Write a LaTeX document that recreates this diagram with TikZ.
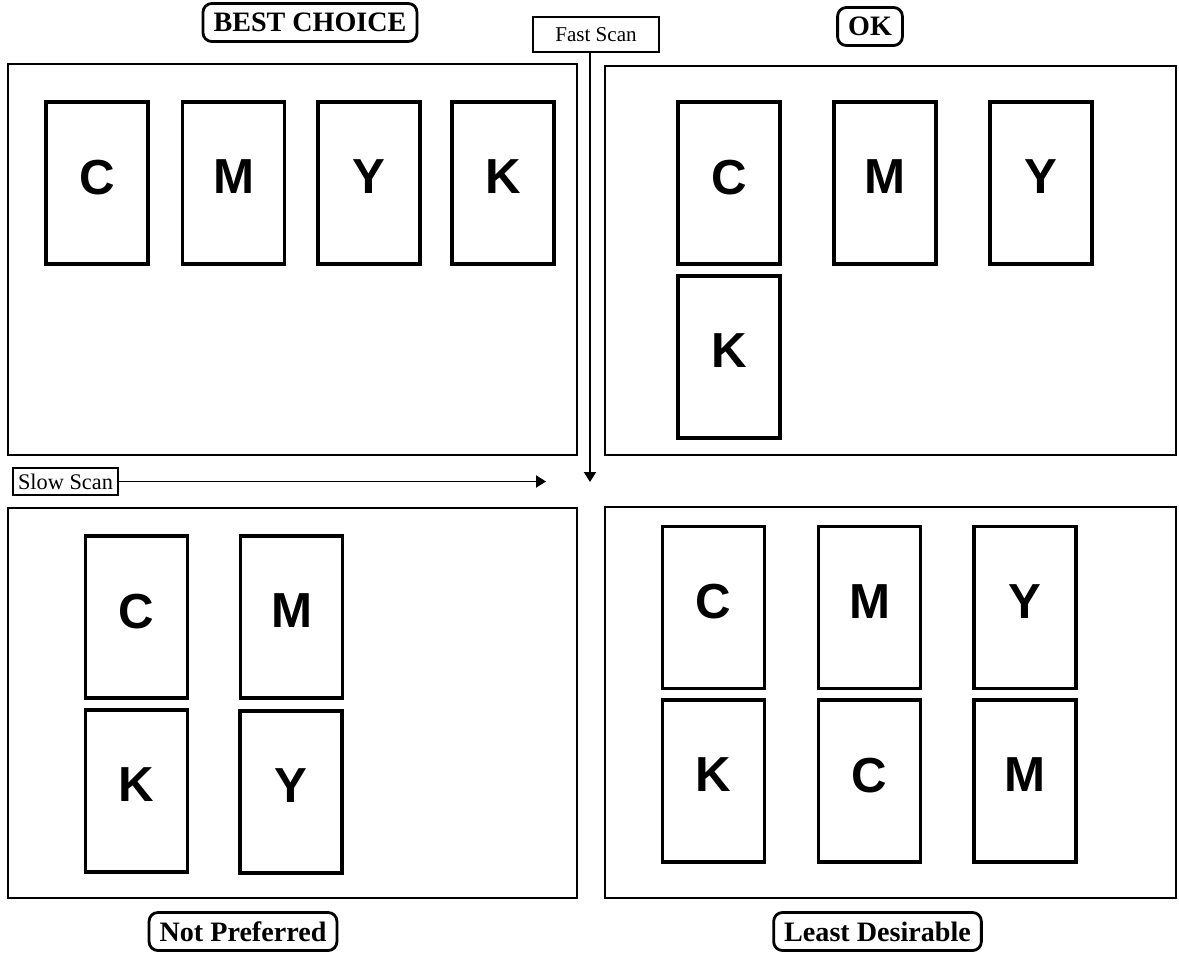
\documentclass[tikz,border=0pt]{standalone}
\usepackage{fontspec}
\setmainfont{Liberation Serif}
\setsansfont{Liberation Sans}
\usepackage{tikz}
\usetikzlibrary{arrows.meta}

\begin{document}
\begin{tikzpicture}[x=0.02cm, y=-0.02cm,
        % Define styles for the panels, the ink boxes and the captions
        panel/.style={draw, line width=1.1pt, inner sep=0pt},
        ink/.style={draw, line width=2.2pt, inner sep=0pt, minimum width=2.04cm, minimum height=3.24cm,
            text depth=0.24cm, font=\sffamily\bfseries\fontsize{28}{28}\selectfont},
        caption/.style={draw, rounded corners=5pt, line width=1.6pt, inner xsep=6pt, inner ysep=0pt,
            minimum height=0.76cm, font=\bfseries\fontsize{16}{16}\selectfont},
        scan/.style={draw, inner sep=0pt, font=\fontsize{12}{12}\selectfont},
        scanarrow/.style={line width=1.1pt, -{Triangle[length=0.2cm, width=0.24cm]}}]

        \useasboundingbox (0,0) rectangle (1179,953);

        % 1. The four panels
        \node[panel, minimum width=11.38cm, minimum height=7.82cm] (tl) at (292.5,259.5) {};
        \node[panel, minimum width=11.42cm, minimum height=7.78cm] (tr) at (890.5,260.5) {};
        \node[panel, minimum width=11.38cm, minimum height=7.80cm] (bl) at (292.5,703) {};
        \node[panel, minimum width=11.42cm, minimum height=7.82cm] (br) at (890.5,702.5) {};

        % 2. Captions above and below the panels
        \node[caption] (best) at (310,22.5) {BEST CHOICE};
        \node[caption] (ok) at (870,26.5) {OK};
        \node[caption] (notpref) at (243,931.5) {Not Preferred};
        \node[caption] (least) at (877.5,931.5) {Least Desirable};

        % 3. Best choice: one row
        \node[ink] (tlC) at (97,183) {C};
        \node[ink] (tlM) at (233.5,183) {M};
        \node[ink] (tlY) at (369,183) {Y};
        \node[ink] (tlK) at (503,183) {K};

        % 4. OK: three in a row, K below
        \node[ink] (trC) at (729,183) {C};
        \node[ink] (trM) at (885,183) {M};
        \node[ink] (trY) at (1041,183) {Y};
        \node[ink] (trK) at (729,357) {K};

        % 5. Not preferred: two by two
        \node[ink] (blC) at (136.5,617) {C};
        \node[ink] (blM) at (291.5,617) {M};
        \node[ink] (blK) at (136.5,791) {K};
        \node[ink] (blY) at (291,792) {Y};

        % 6. Least desirable: two rows of three
        \node[ink] (brC) at (713.5,607.5) {C};
        \node[ink] (brM) at (869.5,607.5) {M};
        \node[ink] (brY) at (1025,607.5) {Y};
        \node[ink] (brK) at (713.5,781) {K};
        \node[ink] (brCtwo) at (869.5,781) {C};
        \node[ink] (brMtwo) at (1025,781) {M};

        % 7. Scan directions
        \node[scan, line width=1.1pt, minimum width=2.52cm, minimum height=0.7cm] (fast) at (596,34.5) {Fast Scan};
        \node[scan, line width=0.9pt, minimum width=2.1cm, minimum height=0.54cm] (slow) at (65.5,481.5) {\fontsize{12.7}{12.7}\selectfont Slow Scan};
        \coordinate (fastend) at (590,482);
        \coordinate (slowend) at (546,481.5);
        \draw[scanarrow] (fast.south -| fastend) -- (fastend);
        \draw[scanarrow] (slow.east) -- (slowend);

    \end{tikzpicture}
\end{document}
